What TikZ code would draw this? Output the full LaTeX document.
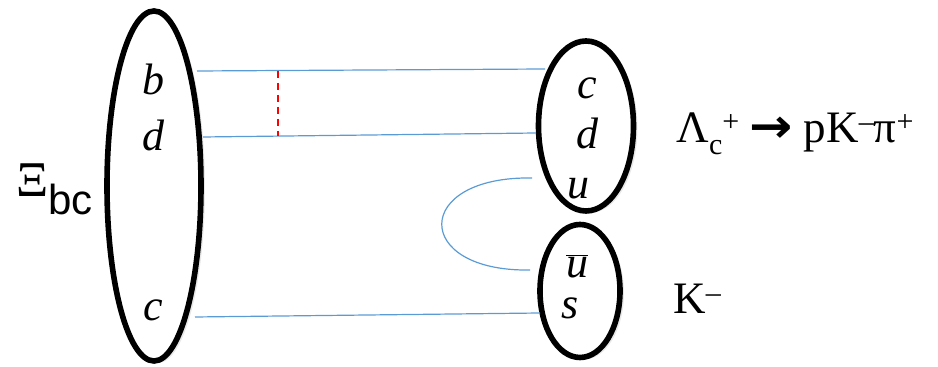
\documentclass[tikz,border=0pt]{standalone}
\usepackage{fontspec}
\setmainfont{Liberation Serif}
\setsansfont{Liberation Sans}
\newfontfamily\arrowfont{DejaVu Sans}
\usepackage{tikz}
\usetikzlibrary{shapes.geometric, shadows}
\definecolor{lineblue}{RGB}{91,155,213}
\tikzstyle{hadron} = [ellipse, draw=black, line width=2.8pt, fill=white, inner sep=0pt, drop shadow={shadow xshift=2pt, shadow yshift=-1pt, opacity=0.18}]
\tikzstyle{quark} = [font=\fontsize{22}{26}\selectfont\itshape, anchor=base, inner sep=0pt]
\tikzstyle{qline} = [lineblue, line width=0.6pt]
\tikzstyle{gluon} = [red, line width=0.6pt, dash pattern=on 3.5pt off 2.5pt]
\tikzstyle{label} = [font=\fontsize{22.5}{27}\selectfont, anchor=base west, inner sep=0pt]
\newcommand{\upidx}[1]{\raisebox{5.5pt}{\fontsize{15}{18}\selectfont #1}}
\newcommand{\downidx}[1]{\raisebox{-6pt}{\fontsize{15}{18}\selectfont #1}}

\begin{document}
\begin{tikzpicture}[x=0.5pt, y=-0.5pt]
    \useasboundingbox (0,0) rectangle (938,367);
    % hadrons
    \node (xibc) [hadron, minimum width=47pt, minimum height=175pt] at (154,186) {};
    \node (lamc) [hadron, minimum width=47.5pt, minimum height=85pt] at (586,126) {};
    \node (kmin) [hadron, minimum width=40pt, minimum height=66.5pt] at (580,291) {};

    % quark contents
    \node (qb) [quark] at (153,95) {b};
    \node (qd) [quark] at (153,151) {d};
    \node (qc) [quark] at (153,321) {c};
    \node (rc) [quark] at (587,99) {c};
    \node (rd) [quark] at (587,149) {d};
    \node (ru) [quark] at (578,199) {u};
    \node (ku) [quark] at (577,278) {$\overline{\mbox{\itshape u}}$};
    \node (ks) [quark] at (570,319) {s};

    % line ends on the borders
    \coordinate (bL) at (197,71);
    \coordinate (bR) at (545,69);
    \coordinate (dL) at (203,137);
    \coordinate (dR) at (536,133);
    \coordinate (cL) at (195,317);
    \coordinate (cR) at (540,313);
    \coordinate (uT) at (532,178);
    \coordinate (uB) at (530,270);
    \coordinate (gT) at (278,71);
    \coordinate (gB) at (278,136);

    \draw [qline] (bL) -- (bR);
    \draw [qline] (dL) -- (dR);
    \draw [qline] (cL) -- (cR);
    \draw [qline] (uT) .. controls (412,176) and (412,272) .. (uB);
    \draw [gluon] (gT) -- (gB);

    % particle names
    \node (xiname) [label, font=\fontsize{25}{30}\selectfont] at (16,197) {Ξ\raisebox{-9pt}{\fontsize{21}{25}\selectfont\sffamily bc}};
    \node (decay) [label] at (676,143) {Λ\downidx{c}\upidx{+}\hspace{5pt}{\arrowfont\bfseries\scalebox{1.15}[1.05]{→}} pK\upidx{–}π\upidx{+}};
    \node (kname) [label] at (673,314) {K\upidx{–}};
\end{tikzpicture}
\end{document}
